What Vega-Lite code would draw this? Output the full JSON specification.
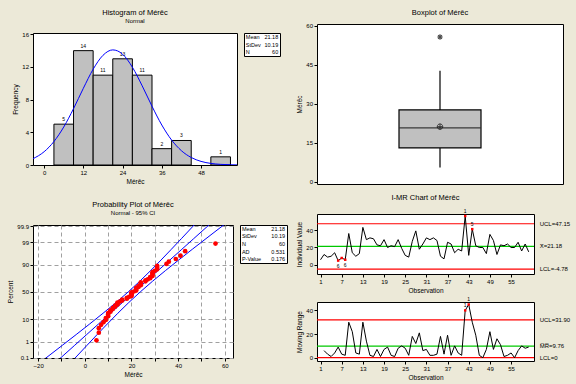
{
  "$schema": "https://vega.github.io/schema/vega-lite/v6.json",
  "autosize": "none",
  "padding": {"left": 33, "top": 24, "right": 543, "bottom": 360},
  "background": "#ECE9D8",
  "bounds": "flush",
  "spacing": 284,
  "datasets": {
    "series": [
      {"obs":1,"value":6},{"obs":2,"value":12},{"obs":3,"value":9},{"obs":4,"value":10},{"obs":5,"value":14},
      {"obs":6,"value":5},{"obs":7,"value":8},{"obs":8,"value":6},{"obs":9,"value":36},{"obs":10,"value":14},
      {"obs":11,"value":10},{"obs":12,"value":13},{"obs":13,"value":43},{"obs":14,"value":29},{"obs":15,"value":31},
      {"obs":16,"value":30},{"obs":17,"value":23},{"obs":18,"value":22},{"obs":19,"value":29},{"obs":20,"value":20},
      {"obs":21,"value":22},{"obs":22,"value":21},{"obs":23,"value":29},{"obs":24,"value":19},{"obs":25,"value":11},
      {"obs":26,"value":9},{"obs":27,"value":27},{"obs":28,"value":39},{"obs":29,"value":18},{"obs":30,"value":24},
      {"obs":31,"value":31},{"obs":32,"value":29},{"obs":33,"value":31},{"obs":34,"value":28},{"obs":35,"value":10},
      {"obs":36,"value":7},{"obs":37,"value":26},{"obs":38,"value":24},{"obs":39,"value":14},{"obs":40,"value":18},
      {"obs":41,"value":16},{"obs":42,"value":56},{"obs":43,"value":11},{"obs":44,"value":41},{"obs":45,"value":22},
      {"obs":46,"value":20},{"obs":47,"value":20},{"obs":48,"value":13},{"obs":49,"value":35},{"obs":50,"value":28},
      {"obs":51,"value":12},{"obs":52,"value":23},{"obs":53,"value":22},{"obs":54,"value":24},{"obs":55,"value":20},
      {"obs":56,"value":20},{"obs":57,"value":26},{"obs":58,"value":16},{"obs":59,"value":24},{"obs":60,"value":15}
    ],
    "mr": [
      {"obs":2,"mr":6},{"obs":3,"mr":3},{"obs":4,"mr":1},{"obs":5,"mr":4},{"obs":6,"mr":9},{"obs":7,"mr":3},
      {"obs":8,"mr":2},{"obs":9,"mr":30},{"obs":10,"mr":22},{"obs":11,"mr":4},{"obs":12,"mr":3},{"obs":13,"mr":30},
      {"obs":14,"mr":14},{"obs":15,"mr":2},{"obs":16,"mr":1},{"obs":17,"mr":7},{"obs":18,"mr":1},{"obs":19,"mr":7},
      {"obs":20,"mr":9},{"obs":21,"mr":2},{"obs":22,"mr":1},{"obs":23,"mr":8},{"obs":24,"mr":10},{"obs":25,"mr":8},
      {"obs":26,"mr":2},{"obs":27,"mr":18},{"obs":28,"mr":12},{"obs":29,"mr":21},{"obs":30,"mr":6},{"obs":31,"mr":7},
      {"obs":32,"mr":2},{"obs":33,"mr":2},{"obs":34,"mr":3},{"obs":35,"mr":18},{"obs":36,"mr":3},{"obs":37,"mr":19},
      {"obs":38,"mr":2},{"obs":39,"mr":10},{"obs":40,"mr":4},{"obs":41,"mr":2},{"obs":42,"mr":40},{"obs":43,"mr":45},
      {"obs":44,"mr":30},{"obs":45,"mr":19},{"obs":46,"mr":2},{"obs":47,"mr":0},{"obs":48,"mr":7},{"obs":49,"mr":22},
      {"obs":50,"mr":7},{"obs":51,"mr":16},{"obs":52,"mr":11},{"obs":53,"mr":1},{"obs":54,"mr":2},{"obs":55,"mr":4},
      {"obs":56,"mr":0},{"obs":57,"mr":6},{"obs":58,"mr":10},{"obs":59,"mr":8},{"obs":60,"mr":9}
    ],
    "probpts": [
      {"value":5,"z":-2.27},{"value":6,"z":-1.91},{"value":6,"z":-1.7},{"value":7,"z":-1.545},{"value":8,"z":-1.42},
      {"value":9,"z":-1.314},{"value":9,"z":-1.222},{"value":10,"z":-1.139},{"value":10,"z":-1.062},{"value":10,"z":-0.992},
      {"value":11,"z":-0.926},{"value":11,"z":-0.865},{"value":12,"z":-0.805},{"value":12,"z":-0.749},{"value":13,"z":-0.695},
      {"value":13,"z":-0.643},{"value":14,"z":-0.593},{"value":14,"z":-0.545},{"value":14,"z":-0.497},{"value":15,"z":-0.451},
      {"value":16,"z":-0.405},{"value":16,"z":-0.36},{"value":18,"z":-0.317},{"value":18,"z":-0.274},{"value":19,"z":-0.231},
      {"value":20,"z":-0.188},{"value":20,"z":-0.146},{"value":20,"z":-0.104},{"value":20,"z":-0.062},{"value":20,"z":-0.021},
      {"value":21,"z":0.021},{"value":22,"z":0.062},{"value":22,"z":0.104},{"value":22,"z":0.146},{"value":22,"z":0.188},
      {"value":23,"z":0.231},{"value":23,"z":0.274},{"value":24,"z":0.317},{"value":24,"z":0.36},{"value":24,"z":0.405},
      {"value":24,"z":0.451},{"value":26,"z":0.497},{"value":26,"z":0.545},{"value":27,"z":0.593},{"value":28,"z":0.643},
      {"value":28,"z":0.695},{"value":29,"z":0.749},{"value":29,"z":0.805},{"value":29,"z":0.865},{"value":29,"z":0.926},
      {"value":30,"z":0.992},{"value":31,"z":1.062},{"value":31,"z":1.139},{"value":31,"z":1.222},{"value":35,"z":1.314},
      {"value":36,"z":1.42},{"value":39,"z":1.545},{"value":41,"z":1.7},{"value":43,"z":1.91},{"value":56,"z":2.27}
    ],
    "ci": [
      {"z":-3.2,"fit":-11.43,"lo":-17.85,"hi":-5.01},{"z":-2.5,"fit":-4.3,"lo":-9.57,"hi":0.98},
      {"z":-2,"fit":0.8,"lo":-3.69,"hi":5.29},{"z":-1.5,"fit":5.9,"lo":2.12,"hi":9.67},
      {"z":-1,"fit":10.99,"lo":7.82,"hi":14.16},{"z":-0.5,"fit":16.09,"lo":13.35,"hi":18.82},
      {"z":0,"fit":21.18,"lo":18.6,"hi":23.76},{"z":0.5,"fit":26.28,"lo":23.54,"hi":29.01},
      {"z":1,"fit":31.37,"lo":28.2,"hi":34.54},{"z":1.5,"fit":36.47,"lo":32.69,"hi":40.24},
      {"z":2,"fit":41.56,"lo":37.07,"hi":46.05},{"z":2.5,"fit":46.66,"lo":41.39,"hi":51.93},
      {"z":3.2,"fit":53.79,"lo":47.37,"hi":60.21}
    ],
    "bins": [
      {"start":3,"end":9,"mid":6,"count":5},{"start":9,"end":15,"mid":12,"count":14},
      {"start":15,"end":21,"mid":18,"count":11},{"start":21,"end":27,"mid":24,"count":13},
      {"start":27,"end":33,"mid":30,"count":11},{"start":33,"end":39,"mid":36,"count":2},
      {"start":39,"end":45,"mid":42,"count":3},{"start":51,"end":57,"mid":54,"count":1}
    ],
    "curve": [
      {"x":-3.4,"y":0.769},{"x":0,"y":1.625},{"x":3,"y":2.87},{"x":6,"y":4.647},{"x":9,"y":6.899},
      {"x":12,"y":9.392},{"x":15,"y":11.727},{"x":18,"y":13.425},{"x":21,"y":14.092},{"x":24,"y":13.566},
      {"x":27,"y":11.973},{"x":30,"y":9.69},{"x":33,"y":7.192},{"x":36,"y":4.895},{"x":39,"y":3.054},
      {"x":42,"y":1.748},{"x":45,"y":0.918},{"x":48,"y":0.441},{"x":51,"y":0.195},{"x":54,"y":0.079},
      {"x":57,"y":0.029},{"x":59,"y":0.014}
    ],
    "stats1": [{"stat":"Mean","val":"21.18"},{"stat":"StDev","val":"10.19"},{"stat":"N","val":"60"}],
    "stats2": [{"stat":"Mean","val":"21.18"},{"stat":"StDev","val":"10.19"},{"stat":"N","val":"60"},{"stat":"AD","val":"0.531"},{"stat":"P-Value","val":"0.176"}],
    "box": [{"var":"Mérêc","lo":5.5,"q1":13.0,"median":20.7,"q3":27.6,"hi":42.7,"mean":21.18,"outlier":55.7}],
    "limitsI": [{"kind":"limit","v":47.15,"label":"UCL=47.15"},{"kind":"center","v":21.18,"label":"X̄=21.18"},{"kind":"limit","v":-4.78,"label":"LCL=-4.78"}],
    "limitsMR": [{"kind":"limit","v":31.9,"label":"UCL=31.90"},{"kind":"center","v":9.76,"label":"M̅R̅=9.76"},{"kind":"limit","v":0,"label":"LCL=0"}],
    "flagsI": [{"obs":6,"value":5,"test":"6"},{"obs":7,"value":8,"test":""},{"obs":8,"value":6,"test":"6"},{"obs":42,"value":56,"test":"1"},{"obs":44,"value":41,"test":"5"}],
    "flagsMR": [{"obs":42,"mr":40,"test":"1"},{"obs":43,"mr":45,"test":"1"}]
  },
  "hconcat": [
    {
      "bounds": "flush",
      "spacing": 201,
      "vconcat": [
        {
          "bounds": "flush",
          "spacing": 0,
          "vconcat": [
            {"width": 10, "height": 9, "view": {"stroke": null, "fill": null}, "data": {"values": [{"a": 0}]}, "mark": {"type": "text", "text": ""}, "encoding": {}},
            {
              "bounds": "flush",
              "spacing": 7,
              "hconcat": [
                {
                  "width": 204, "height": 132,
                  "title": {"text": "Histogram of Mérêc", "subtitle": "Normal", "offset": 7, "subtitlePadding": 2},
                  "layer": [
                    {"data": {"name": "bins"}, "mark": {"type": "rect", "fill": "#C0C0C0", "stroke": "black", "strokeWidth": 1},
                     "encoding": {
                       "x": {"field": "start", "type": "quantitative", "scale": {"domain": [-3.4, 59], "nice": false, "zero": false}, "axis": {"values": [0, 12, 24, 36, 48], "tickCount": 50, "format": "d", "title": "Mérêc"}},
                       "x2": {"field": "end"},
                       "y": {"field": "count", "type": "quantitative", "scale": {"domain": [0, 16.16], "nice": false}, "axis": {"values": [0, 4, 8, 12, 16], "tickCount": 50, "format": "d", "title": "Frequency"}}
                     }},
                    {"data": {"name": "bins"}, "mark": {"type": "text", "fontSize": 5, "baseline": "bottom", "dy": -2},
                     "encoding": {"x": {"field": "mid", "type": "quantitative"}, "y": {"field": "count", "type": "quantitative"}, "text": {"field": "count"}}},
                    {"data": {"name": "curve"}, "mark": {"type": "line", "color": "#0000FF", "strokeWidth": 1, "interpolate": "monotone", "clip": true},
                     "encoding": {"x": {"field": "x", "type": "quantitative"}, "y": {"field": "y", "type": "quantitative"}}}
                  ]
                },
                {
                  "width": 36, "height": 23,
                  "data": {"name": "stats1"},
                  "layer": [
                    {"mark": {"type": "text", "align": "left", "fontSize": 5.5},
                     "encoding": {"x": {"datum": 0.05, "type": "quantitative", "scale": {"domain": [0, 1]}, "axis": null}, "y": {"field": "stat", "type": "nominal", "sort": null, "axis": null}, "text": {"field": "stat"}}},
                    {"mark": {"type": "text", "align": "right", "fontSize": 5.5},
                     "encoding": {"x": {"datum": 0.95, "type": "quantitative"}, "y": {"field": "stat", "type": "nominal", "sort": null}, "text": {"field": "val"}}}
                  ]
                }
              ]
            }
          ]
        },
        {
          "bounds": "flush",
          "spacing": 7,
          "hconcat": [
            {
              "width": 200, "height": 133,
              "title": {"text": "Probability Plot of Mérêc", "subtitle": "Normal - 95% CI", "offset": 7, "subtitlePadding": 2},
              "layer": [
                {"data": {"name": "ci"}, "mark": {"type": "line", "color": "#0000FF", "strokeWidth": 1, "clip": true},
                 "encoding": {
                   "x": {"field": "fit", "type": "quantitative", "scale": {"domain": [-22.2, 63.5], "nice": false, "zero": false},
                         "axis": {"values": [-20, -10, 0, 10, 20, 30, 40, 50, 60], "tickCount": 50, "format": "d", "labelExpr": "datum.value % 20 === 0 ? datum.label : ''", "title": "Mérêc", "grid": true, "gridDash": [4, 3], "gridColor": "#A0A0A0"}},
                   "y": {"field": "z", "type": "quantitative", "scale": {"domain": [-3.1, 3.14], "nice": false, "zero": false},
                         "axis": {"values": [-3.0902, -2.3263, -1.2816, 0, 1.2816, 2.3263, 3.0902], "tickCount": 50, "labelExpr": "datum.value < -3 ? '0.1' : datum.value < -2 ? '1' : datum.value < -1 ? '10' : datum.value < 1 ? '50' : datum.value < 2 ? '90' : datum.value < 3 ? '99' : '99.9'", "title": "Percent", "grid": true, "gridDash": [4, 3], "gridColor": "#A0A0A0"}}
                 }},
                {"data": {"name": "ci"}, "mark": {"type": "line", "color": "#0000FF", "strokeWidth": 1, "clip": true},
                 "encoding": {"x": {"field": "lo", "type": "quantitative"}, "y": {"field": "z", "type": "quantitative"}}},
                {"data": {"name": "ci"}, "mark": {"type": "line", "color": "#0000FF", "strokeWidth": 1, "clip": true},
                 "encoding": {"x": {"field": "hi", "type": "quantitative"}, "y": {"field": "z", "type": "quantitative"}}},
                {"data": {"name": "probpts"}, "mark": {"type": "circle", "color": "#FF0000", "opacity": 1, "size": 22},
                 "encoding": {"x": {"field": "value", "type": "quantitative"}, "y": {"field": "z", "type": "quantitative"}}}
              ]
            },
            {
              "width": 47, "height": 38,
              "data": {"name": "stats2"},
              "layer": [
                {"mark": {"type": "text", "align": "left", "fontSize": 5.5},
                 "encoding": {"x": {"datum": 0.04, "type": "quantitative", "scale": {"domain": [0, 1]}, "axis": null}, "y": {"field": "stat", "type": "nominal", "sort": null, "axis": null}, "text": {"field": "stat"}}},
                {"mark": {"type": "text", "align": "right", "fontSize": 5.5},
                 "encoding": {"x": {"datum": 0.96, "type": "quantitative"}, "y": {"field": "stat", "type": "nominal", "sort": null}, "text": {"field": "val"}}}
              ]
            }
          ]
        }
      ]
    },
    {
      "bounds": "flush",
      "spacing": 30,
      "vconcat": [
        {
          "width": 246, "height": 160,
          "title": {"text": "Boxplot of Mérêc", "offset": 6},
          "data": {"name": "box"},
          "layer": [
            {"mark": {"type": "rule", "strokeWidth": 1.2, "color": "black"},
             "encoding": {
               "x": {"field": "var", "type": "nominal", "axis": null, "scale": {"paddingInner": 0, "paddingOuter": 1.02}},
               "y": {"field": "lo", "type": "quantitative", "scale": {"domain": [-0.9, 60.7], "nice": false, "zero": false}, "axis": {"values": [0, 15, 30, 45, 60], "tickCount": 50, "format": "d", "title": "Mérêc"}},
               "y2": {"field": "q1"}
             }},
            {"mark": {"type": "rule", "strokeWidth": 1.2, "color": "black"},
             "encoding": {"x": {"field": "var", "type": "nominal"}, "y": {"field": "q3", "type": "quantitative"}, "y2": {"field": "hi"}}},
            {"mark": {"type": "bar", "fill": "#C0C0C0", "stroke": "black", "strokeWidth": 1.2},
             "encoding": {"x": {"field": "var", "type": "nominal"}, "y": {"field": "q1", "type": "quantitative"}, "y2": {"field": "q3"}}},
            {"mark": {"type": "tick", "color": "black", "thickness": 1.2, "size": 81},
             "encoding": {"x": {"field": "var", "type": "nominal"}, "y": {"field": "median", "type": "quantitative"}}},
            {"mark": {"type": "point", "shape": "M-1,0A1,1,0,1,0,1,0A1,1,0,1,0,-1,0M-1,0L1,0M0,-1L0,1", "filled": false, "color": "black", "size": 30, "strokeWidth": 1},
             "encoding": {"x": {"field": "var", "type": "nominal"}, "y": {"field": "mean", "type": "quantitative"}}},
            {"mark": {"type": "point", "shape": "M-1,0L1,0M0,-1L0,1M-0.7,-0.7L0.7,0.7M-0.7,0.7L0.7,-0.7", "filled": false, "color": "black", "size": 30, "strokeWidth": 1.2},
             "encoding": {"x": {"field": "var", "type": "nominal"}, "y": {"field": "outlier", "type": "quantitative"}}}
          ]
        },
        {
          "bounds": "flush",
          "spacing": 28,
          "vconcat": [
            {
              "width": 217, "height": 60,
              "title": {"text": "I-MR Chart of Mérêc", "offset": 8},
              "layer": [
                {"data": {"name": "limitsI"}, "mark": {"type": "rule", "strokeWidth": 1.2},
                 "encoding": {"y": {"field": "v", "type": "quantitative", "scale": {"domain": [-10.3, 58.3], "nice": false, "zero": false}},
                              "color": {"field": "kind", "type": "nominal", "scale": {"domain": ["limit", "center"], "range": ["#FF0000", "#00C800"]}, "legend": null}}},
                {"data": {"name": "series"}, "mark": {"type": "line", "color": "black", "strokeWidth": 1},
                 "encoding": {
                   "x": {"field": "obs", "type": "quantitative", "scale": {"domain": [0, 61.5], "nice": false, "zero": false}, "axis": {"values": [1, 7, 13, 19, 25, 31, 37, 43, 49, 55], "tickCount": 50, "format": "d", "title": "Observation"}},
                   "y": {"field": "value", "type": "quantitative", "axis": {"values": [0, 20, 40], "tickCount": 50, "format": "d", "title": "Individual Value"}}
                 }},
                {"data": {"name": "flagsI"}, "mark": {"type": "square", "color": "#FF0000", "size": 6, "opacity": 1},
                 "encoding": {"x": {"field": "obs", "type": "quantitative"}, "y": {"field": "value", "type": "quantitative"}}},
                {"data": {"name": "flagsI"}, "transform": [{"filter": "datum.value > 21.18"}], "mark": {"type": "text", "fontSize": 5, "color": "black", "dy": -5},
                 "encoding": {"x": {"field": "obs", "type": "quantitative"}, "y": {"field": "value", "type": "quantitative"}, "text": {"field": "test"}}},
                {"data": {"name": "flagsI"}, "transform": [{"filter": "datum.value <= 21.18"}], "mark": {"type": "text", "fontSize": 5, "color": "black", "dy": 5},
                 "encoding": {"x": {"field": "obs", "type": "quantitative"}, "y": {"field": "value", "type": "quantitative"}, "text": {"field": "test"}}},
                {"data": {"name": "limitsI"}, "mark": {"type": "text", "align": "left", "baseline": "middle", "fontSize": 6},
                 "encoding": {"x": {"datum": 63.1, "type": "quantitative"}, "y": {"field": "v", "type": "quantitative"}, "text": {"field": "label"}}}
              ]
            },
            {
              "width": 217, "height": 59,
              "layer": [
                {"data": {"name": "limitsMR"}, "mark": {"type": "rule", "strokeWidth": 1.2},
                 "encoding": {"y": {"field": "v", "type": "quantitative", "scale": {"domain": [-2.8, 47.1], "nice": false, "zero": false}},
                              "color": {"field": "kind", "type": "nominal", "scale": {"domain": ["limit", "center"], "range": ["#FF0000", "#00C800"]}, "legend": null}}},
                {"data": {"name": "mr"}, "mark": {"type": "line", "color": "black", "strokeWidth": 1},
                 "encoding": {
                   "x": {"field": "obs", "type": "quantitative", "scale": {"domain": [0, 61.5], "nice": false, "zero": false}, "axis": {"values": [1, 7, 13, 19, 25, 31, 37, 43, 49, 55], "tickCount": 50, "format": "d", "title": "Observation"}},
                   "y": {"field": "mr", "type": "quantitative", "axis": {"values": [0, 20, 40], "tickCount": 50, "format": "d", "title": "Moving Range"}}
                 }},
                {"data": {"name": "flagsMR"}, "mark": {"type": "square", "color": "#FF0000", "size": 6, "opacity": 1},
                 "encoding": {"x": {"field": "obs", "type": "quantitative"}, "y": {"field": "mr", "type": "quantitative"}}},
                {"data": {"name": "flagsMR"}, "mark": {"type": "text", "fontSize": 5, "color": "black", "dy": -5},
                 "encoding": {"x": {"field": "obs", "type": "quantitative"}, "y": {"field": "mr", "type": "quantitative"}, "text": {"field": "test"}}},
                {"data": {"name": "limitsMR"}, "mark": {"type": "text", "align": "left", "baseline": "middle", "fontSize": 6},
                 "encoding": {"x": {"datum": 63.1, "type": "quantitative"}, "y": {"field": "v", "type": "quantitative"}, "text": {"field": "label"}}}
              ]
            }
          ]
        }
      ]
    }
  ],
  "config": {
    "font": "Liberation Sans",
    "view": {"stroke": "black", "strokeWidth": 1, "fill": "white"},
    "axis": {"domain": false, "grid": false, "ticks": true, "tickSize": 3, "tickColor": "black", "labelFontSize": 6, "labelColor": "black", "labelPadding": 1.5, "titleFontSize": 6.5, "titleFontWeight": "normal", "titleColor": "black", "titlePadding": 3, "labelFlush": false, "labelOverlap": false},
    "title": {"fontSize": 7.5, "fontWeight": "normal", "color": "black", "subtitleFontSize": 6, "subtitleColor": "black", "anchor": "middle"},
    "text": {"color": "black"}
  }
}
